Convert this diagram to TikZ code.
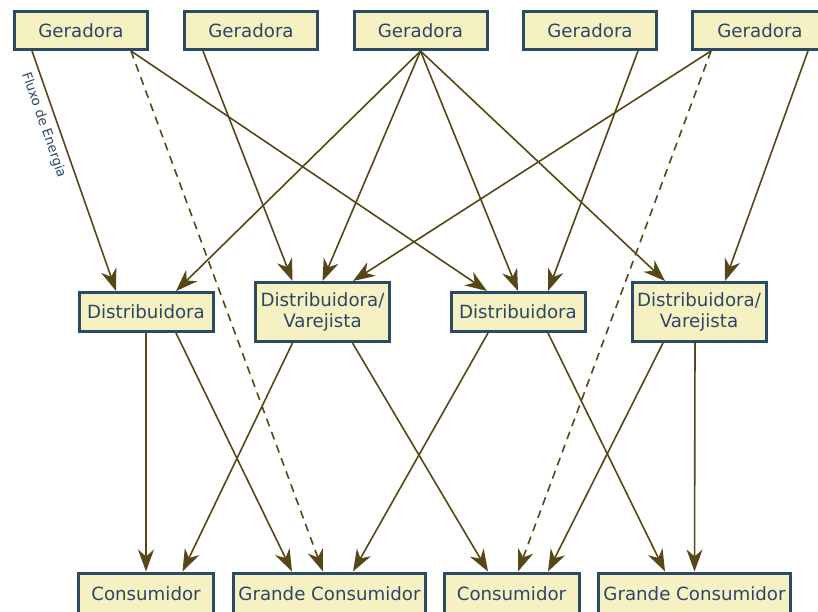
\documentclass[tikz,border=0pt]{standalone}
\usepackage{fontspec}
\setmainfont{DejaVu Sans}
\usetikzlibrary{arrows.meta}

\definecolor{boxfill}{HTML}{F6F1C2}
\definecolor{boxline}{HTML}{2C4A66}
\definecolor{boxtext}{HTML}{2A4866}
\definecolor{flow}{HTML}{574716}

\tikzset{
  unit/.style={draw=boxline, fill=boxfill, line width=3pt, text=boxtext,
    inner sep=0pt, align=center, font=\fontsize{18.2}{21.8}\selectfont},
  gen/.style={unit, minimum width=133pt, minimum height=38pt},
  % last producer runs past the right edge of the sheet
  genwide/.style={unit, minimum width=208pt, minimum height=38pt},
  dist/.style={unit, minimum width=134pt, minimum height=39pt},
  retail/.style={unit, minimum width=134pt, minimum height=59pt},
  % consumer boxes run past the bottom edge of the sheet
  cons/.style={unit, minimum width=135pt, minimum height=62pt},
  bigcons/.style={unit, minimum width=192pt, minimum height=62pt},
  link/.style={draw=flow, line width=1.6pt,
    -{Stealth[length=22pt, width=16pt, inset=7pt]}},
  optional/.style={link, dash pattern=on 8pt off 6pt},
  flowlabel/.style={text=boxtext, font=\fontsize{13.2}{15}\selectfont}
}
\newcommand{\lowpad}{\rule[-20pt]{0pt}{0pt}}

\begin{document}
\begin{tikzpicture}[x=1pt, y=-1pt]
\useasboundingbox (0,0) rectangle (818,612);
\clip (0,0) rectangle (818,612);

% producers
\node[gen] (g1) at (81,30.5)  {Geradora};
\node[gen] (g2) at (251,30.5) {Geradora};
\node[gen] (g3) at (420.5,30.5) {Geradora};
\node[gen] (g4) at (590,30.5) {Geradora};
\node[genwide] (g5) at (796,30.5) {Geradora\hspace*{72pt}};

% distribution tier
\node[dist]   (d1) at (146,312)   {Distribuidora};
\node[retail] (r1) at (322.5,312) {Distribuidora/\\Varejista};
\node[dist]   (d2) at (518,312)   {Distribuidora};
\node[retail] (r2) at (699,312)   {Distribuidora/\\Varejista};

% consumers
\node[cons]    (c1) at (146,604)   {Consumidor\lowpad};
\node[bigcons] (b1) at (329.5,604) {Grande Consumidor\lowpad};
\node[cons]    (c2) at (511.5,604) {Consumidor\lowpad};
\node[bigcons] (b2) at (694.5,604) {Grande Consumidor\lowpad};

% producers -> distribution
\draw[link] ([xshift=-49pt]g1.south) -- node[flowlabel, sloped, below=3pt, pos=0.29] {Fluxo de Energia} ([xshift=-30pt]d1.north);
\draw[optional] ([xshift=50pt]g1.south) -- ([xshift=-6.5pt]b1.north);
\draw[link] ([xshift=50pt]g1.south) -- ([xshift=-31pt]d2.north);
\draw[link] ([xshift=-48pt]g2.south) -- ([xshift=-30pt]r1.north);
\draw[link] (g3.south) -- ([xshift=30pt]d1.north);
\draw[link] (g3.south) -- (r1.north);
\draw[link] (g3.south) -- (d2.north);
\draw[link] (g3.south) -- ([xshift=-34pt]r2.north);
\draw[link] ([xshift=48pt]g4.south) -- ([xshift=30pt]d2.north);
\draw[link] ([xshift=-85pt]g5.south) -- ([xshift=30.5pt]r1.north);
\draw[optional] ([xshift=-85pt]g5.south) -- ([xshift=6.5pt]c2.north);
\draw[link] ([xshift=12pt]g5.south) -- ([xshift=26pt]r2.north);

% distribution -> consumers
\draw[link] (d1.south) -- (c1.north);
\draw[link] ([xshift=30pt]d1.south) -- ([xshift=-37.5pt]b1.north);
\draw[link] ([xshift=-30pt]r1.south) -- ([xshift=36.5pt]c1.north);
\draw[link] ([xshift=30pt]r1.south) -- ([xshift=-23.5pt]c2.north);
\draw[link] ([xshift=-30pt]d2.south) -- ([xshift=23.5pt]b1.north);
\draw[link] ([xshift=30pt]d2.south) -- ([xshift=-29.5pt]b2.north);
\draw[link] ([xshift=-36pt]r2.south) -- ([xshift=36.5pt]c2.north);
\draw[link] ([xshift=-4pt]r2.south) -- (b2.north);
\end{tikzpicture}
\end{document}
